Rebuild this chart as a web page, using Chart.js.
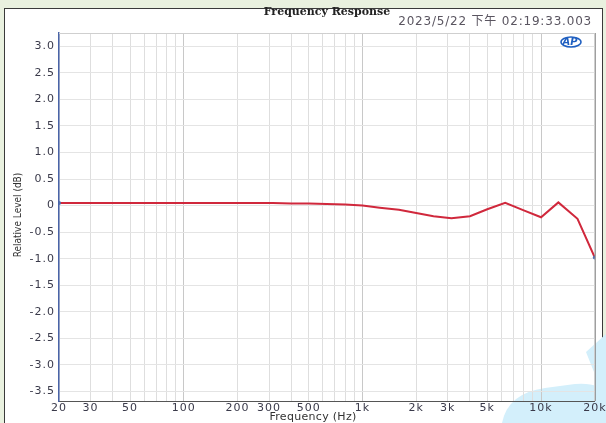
<!DOCTYPE html>
<html><head><meta charset="utf-8">
<script src="https://cdn.jsdelivr.net/npm/chart.js@4/dist/chart.umd.min.js"></script>
<style>html,body{margin:0;padding:0;background:#e9f1df;}#wrap{width:606px;height:423px;position:relative;}</style>
</head><body><div id="wrap"><canvas id="c" width="606" height="423"></canvas></div>
<script>
const frequencies = [20,25,31.5,40,50,63,80,100,125,160,200,250,315,400,500,630,800,1000,1250,1600,2000,2500,3150,4000,5000,6300,8000,10000,12500,16000,20000];
const levels = [0.05,0.05,0.05,0.05,0.05,0.05,0.05,0.05,0.05,0.05,0.05,0.05,0.05,0.04,0.04,0.03,0.02,0.0,-0.04,-0.08,-0.14,-0.2,-0.24,-0.2,-0.07,0.05,-0.09,-0.22,0.06,-0.25,-0.98];
const xLabelTicks = [20,30,50,100,200,300,500,1000,2000,3000,5000,10000,20000];
const yTicks = [3.0,2.5,2.0,1.5,1.0,0.5,0,-0.5,-1.0,-1.5,-2.0,-2.5,-3.0,-3.5];
const titleText = 'Frequency Response';
const stampText = '2023/5/22 下午 02:19:33.003';
const xTitle = 'Frequency (Hz)';
const yTitle = 'Relative Level (dB)';

const gridTicks = [];
[10,100,1000,10000].forEach(d=>{for(let m=1;m<=9;m++){const v=m*d;if(v>=20&&v<=20000)gridTicks.push(v);}});

function fmtHz(v){return v>=1000?(v/1000)+'k':String(v);}

const bgPlugin = {
  id:'bg',
  beforeDraw(chart){
    const ctx=chart.ctx;
    ctx.letterSpacing='0px';
    ctx.save();
    ctx.fillStyle='#e9f1df';ctx.fillRect(0,0,606,423);
    ctx.fillStyle='#ffffff';ctx.fillRect(4,8,599,420);
    ctx.strokeStyle='#3a3a3a';ctx.lineWidth=1;ctx.strokeRect(4.5,8.5,598,420);
    // watermark
    ctx.fillStyle='#d3effb';
    ctx.beginPath();
    ctx.moveTo(502,423);ctx.quadraticCurveTo(508,393,545,388);ctx.lineTo(575,384);ctx.quadraticCurveTo(600,382,606,395);ctx.lineTo(606,423);ctx.closePath();ctx.fill();
    ctx.beginPath();
    ctx.moveTo(586,352);ctx.lineTo(606,334);ctx.lineTo(606,400);ctx.lineTo(597,400);ctx.lineTo(594,372);ctx.closePath();ctx.fill();
    ctx.restore();
    ctx.letterSpacing='1px';
  },
  afterDraw(chart){
    const ctx=chart.ctx;const a=chart.chartArea;
    ctx.letterSpacing='0px';
    ctx.save();
    ctx.strokeStyle='#8a8a8a';ctx.lineWidth=1;
    ctx.beginPath();ctx.moveTo(a.right+0.5,a.top);ctx.lineTo(a.right+0.5,a.bottom);ctx.stroke();
    ctx.strokeStyle='#cfcfcf';
    ctx.beginPath();ctx.moveTo(a.left,a.top+0.5);ctx.lineTo(a.right,a.top+0.5);ctx.stroke();
    ctx.fillStyle='#222';ctx.textAlign='center';ctx.textBaseline='middle';
    ctx.font='bold 11px "DejaVu Serif", serif';
    ctx.fillText(titleText,327,12);
    ctx.fillStyle='#5a5560';ctx.textAlign='right';
    ctx.letterSpacing='0.8px';
    ctx.font='12px "DejaVu Sans","Noto Sans CJK SC",sans-serif';
    ctx.fillText(stampText,592,22);
    ctx.letterSpacing='0.3px';
    ctx.fillStyle='#333';ctx.textAlign='center';
    ctx.font='11px "DejaVu Sans",sans-serif';
    ctx.fillText(xTitle,313,417);
    ctx.letterSpacing='0px';
    ctx.save();ctx.translate(18,215);ctx.rotate(-Math.PI/2);
    ctx.font='10px "Liberation Sans Narrow","DejaVu Sans Condensed",sans-serif';
    ctx.fillText(yTitle,0,0);ctx.restore();
    // AP logo
    ctx.strokeStyle='#1f5fc0';ctx.lineWidth=1.5;
    ctx.beginPath();ctx.ellipse(571,42,10,5,0,0,Math.PI*2);ctx.stroke();
    ctx.fillStyle='#1f5fc0';ctx.font='italic bold 10px "DejaVu Sans",sans-serif';
    ctx.fillText('AP',570,42);
    ctx.restore();
  }
};

const data = frequencies.map((f,i)=>({x:f,y:levels[i]}));
const n = data.length;

new Chart(document.getElementById('c'),{
  type:'line',
  data:{datasets:[{
    data:data,
    borderColor:'#d0283c',borderWidth:2,tension:0,
    pointRadius:data.map((d,i)=>(i===0||i===n-1)?2:0),
    pointBackgroundColor:'#5070b0',pointBorderColor:'#5070b0',pointBorderWidth:0
  }]},
  options:{
    responsive:false,animation:false,
    layout:{padding:{top:33,right:9,left:4,bottom:0}},
    plugins:{legend:{display:false},tooltip:{enabled:false}},
    scales:{
      x:{
        type:'logarithmic',min:20,max:20000,
        afterBuildTicks(s){s.ticks=gridTicks.map(v=>({value:v}));},
        afterFit(s){s.height=22;},
        ticks:{autoSkip:false,maxRotation:0,padding:1,color:'#3a3a4a',font:{family:'DejaVu Sans',size:11},
          callback(v){return xLabelTicks.includes(v)?fmtHz(v):'';}},
        grid:{color(ctx){const v=ctx.tick&&ctx.tick.value;if(v===undefined)return '#dedede';
          const l=Math.log10(v);return Math.abs(l-Math.round(l))<1e-9?'#c8c8c8':'#dedede';},
          lineWidth:1,drawTicks:false},
        border:{color:'#555',width:1}
      },
      y:{
        min:-3.68,max:3.25,
        afterBuildTicks(s){s.ticks=yTicks.map(v=>({value:v}));},
        afterFit(s){s.width=55;},
        ticks:{autoSkip:false,padding:4,color:'#3a3a4a',font:{family:'DejaVu Sans',size:11},
          callback(v){return v===0?'0':v.toFixed(1);}},
        grid:{color:'#e4e4e4',lineWidth:1,drawTicks:false},
        border:{color:'#4a64a8',width:1.5}
      }
    }
  },
  plugins:[bgPlugin]
});
</script></body></html>
